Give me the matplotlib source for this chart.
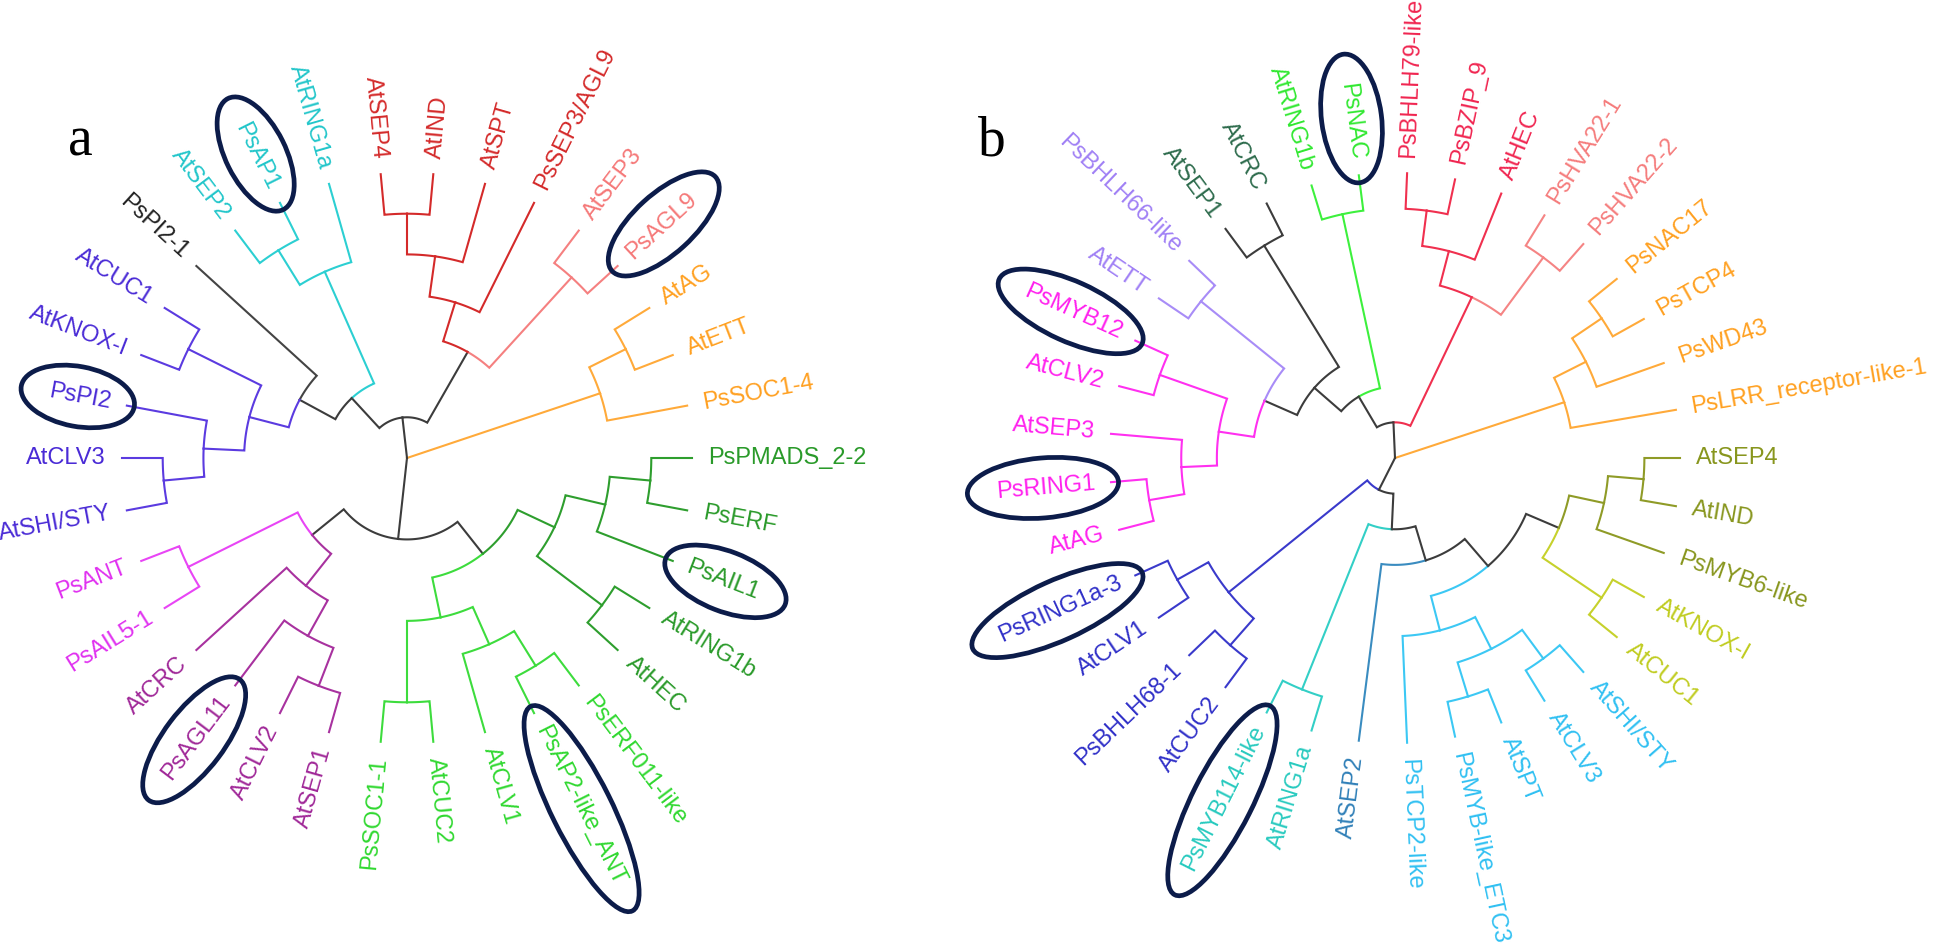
import numpy as np
import matplotlib.pyplot as plt
from matplotlib.patches import Ellipse
from matplotlib.textpath import TextPath
from matplotlib.font_manager import FontProperties

# trees in Newick order, leaves listed counter-clockwise
tree_a = ("((((PsANT,PsAIL5-1),(AtCRC,(PsAGL11,(AtCLV2,AtSEP1)))),"
          "(((PsSOC1-1,AtCUC2),(AtCLV1,(PsAP2-like_ANT,PsERF011-like))),"
          "((AtHEC,AtRING1b),(PsAIL1,(PsERF,PsPMADS_2-2))))),"
          "(PsSOC1-4,(AtETT,AtAG)),"
          "(((PsAGL9,AtSEP3),(PsSEP3/AGL9,(AtSPT,(AtIND,AtSEP4)))),"
          "((AtRING1a,(PsAP1,AtSEP2)),(PsPI2-1,((AtCUC1,AtKNOX-I),(PsPI2,(AtCLV3,AtSHI/STY)))))));")

tree_b = ("((PsLRR_receptor-like-1,(PsWD43,(PsTCP4,PsNAC17))),"
          "(((PsHVA22-2,PsHVA22-1),(AtHEC,(PsBZIP_9,PsBHLH79-like)))red,"
          "((PsNAC,AtRING1b),((AtCRC,AtSEP1),((PsBHLH66-like,AtETT),"
          "((PsMYB12,AtCLV2),(AtSEP3,(PsRING1,AtAG))))))),"
          "(((PsRING1a-3,AtCLV1),(PsBHLH68-1,AtCUC2)),((PsMYB114-like,AtRING1a),"
          "(AtSEP2,((PsTCP2-like,((PsMYB-like_ETC3,AtSPT),(AtCLV3,AtSHI/STY))),"
          "((AtCUC1,AtKNOX-I),(PsMYB6-like,(AtIND,AtSEP4))))))));")

# colour groups, panel a
a_violet = ["AtCUC1", "AtKNOX-I", "PsPI2", "AtCLV3", "AtSHI/STY"]
a_black = ["PsPI2-1"]
a_cyan = ["AtRING1a", "PsAP1", "AtSEP2"]
a_red = ["AtSEP4", "AtIND", "AtSPT", "PsSEP3/AGL9"]
a_pink = ["AtSEP3", "PsAGL9"]
a_orange = ["AtAG", "AtETT", "PsSOC1-4"]
a_dkgreen = ["PsPMADS_2-2", "PsERF", "PsAIL1", "AtRING1b", "AtHEC"]
a_ltgreen = ["PsERF011-like", "PsAP2-like_ANT", "AtCLV1", "AtCUC2", "PsSOC1-1"]
a_magenta = ["PsANT", "PsAIL5-1"]
a_purple = ["AtCRC", "PsAGL11", "AtCLV2", "AtSEP1"]
a_circled = ["PsAP1", "PsAGL9", "PsPI2", "PsAIL1", "PsAGL11", "PsAP2-like_ANT"]

# colour groups, panel b
b_orange = ["PsNAC17", "PsTCP4", "PsWD43", "PsLRR_receptor-like-1"]
b_pink = ["PsHVA22-1", "PsHVA22-2"]
b_red = ["AtHEC", "PsBZIP_9", "PsBHLH79-like"]
b_green = ["PsNAC", "AtRING1b"]
b_slate = ["AtCRC", "AtSEP1"]
b_lavender = ["PsBHLH66-like", "AtETT"]
b_magenta = ["PsMYB12", "AtCLV2", "AtSEP3", "PsRING1", "AtAG"]
b_blue = ["PsRING1a-3", "AtCLV1", "PsBHLH68-1", "AtCUC2"]
b_teal = ["PsMYB114-like", "AtRING1a"]
b_steel = ["AtSEP2"]
b_sky = ["PsTCP2-like", "PsMYB-like_ETC3", "AtSPT", "AtCLV3", "AtSHI/STY"]
b_olive = ["PsMYB6-like", "AtIND", "AtSEP4"]
b_yellow = ["AtKNOX-I", "AtCUC1"]
b_circled = ["PsNAC", "PsMYB12", "PsRING1", "PsRING1a-3", "PsMYB114-like"]

SKEL = "#3c3c3c"

a_groups = [(a_violet, "#5b3be0", "#4a2bd6"), (a_black, "#444444", "#222222"),
            (a_cyan, "#2ccfd2", "#22c6ca"), (a_red, "#d42a2a", "#d42a2a"),
            (a_pink, "#f58080", "#f57878"), (a_orange, "#ffaa3a", "#ffa020"),
            (a_dkgreen, "#2e9e2e", "#2a9a2a"), (a_ltgreen, "#3ddc3d", "#30d830"),
            (a_magenta, "#e845f5", "#e030f0"), (a_purple, "#a8329f", "#a02898")]
b_groups = [(b_orange, "#ffaa3a", "#ffa020"), (b_pink, "#f58484", "#f57c7c"),
            (b_red, "#f0304f", "#f02550"), (b_green, "#3df03d", "#30e830"),
            (b_slate, SKEL, "#2d6b4c"), (b_lavender, "#a88cf7", "#a080f5"),
            (b_magenta, "#ff30f0", "#ff20ee"), (b_blue, "#3a3acb", "#3030c8"),
            (b_teal, "#33cfc6", "#28cabf"), (b_steel, "#3a8cc0", "#3080b8"),
            (b_sky, "#3cc8f4", "#30c0f2"), (b_olive, "#8f9b27", "#88961e"),
            (b_yellow, "#c6d12c", "#c0cc20")]
b_override = {"red": "#f0304f"}

W, H = 1946, 948
FS = 17
FS_PX = FS * 100 / 72
GAP = 16
font = FontProperties(family="Liberation Sans")


def parse(s):
    s = s.strip().rstrip(";")
    pos = 0

    def read_name():
        nonlocal pos
        st = pos
        while pos < len(s) and s[pos] not in ",()":
            pos += 1
        return s[st:pos]

    def node():
        nonlocal pos
        if s[pos] == "(":
            pos += 1
            kids = [node()]
            while s[pos] == ",":
                pos += 1
                kids.append(node())
            pos += 1
            return {"kids": kids, "name": read_name()}
        return {"kids": [], "name": read_name()}

    return node()


def layout(n, start, step, cnt, lc, override):
    if not n["kids"]:
        n["ang"] = start + step * cnt[0]
        cnt[0] += 1
        n["h"] = 0
        n["col"] = lc[n["name"]][0]
        return
    for k in n["kids"]:
        layout(k, start, step, cnt, lc, override)
    n["ang"] = np.mean([k["ang"] for k in n["kids"]])
    n["h"] = 1 + max(k["h"] for k in n["kids"])
    cols = set(k["col"] for k in n["kids"])
    if len(cols) == 1:
        n["col"] = cols.pop()
    elif n["name"] in override:
        n["col"] = override[n["name"]]
    else:
        n["col"] = SKEL


def draw_tree(ax, newick, groups, cx, cy, R, start, circled, override={}):
    lc = {}
    for names, line_c, lab_c in groups:
        for nm in names:
            lc[nm] = (line_c, lab_c)
    root = parse(newick)
    nleaf = newick.count(",") + 1
    step = 360.0 / nleaf
    layout(root, start, step, [0], lc, override)
    Hmax = root["h"]

    def rad(n):
        return (Hmax - n["h"]) / Hmax * R

    def walk(p):
        rp = rad(p)
        for k in p["kids"]:
            rk = rad(k)
            t = np.radians(np.linspace(p["ang"], k["ang"], 40))
            xs = list(cx + rp * np.cos(t)) + [cx + rk * np.cos(t[-1])]
            ys = list(cy + rp * np.sin(t)) + [cy + rk * np.sin(t[-1])]
            ax.plot(xs, ys, color=k["col"], lw=1.5, solid_joinstyle="miter")
            if k["kids"]:
                walk(k)
            else:
                label(k)

    def label(n):
        th = n["ang"] % 360
        tr = np.radians(th)
        if 90 < th < 270:
            rot, ha = th - 180, "right"
        else:
            rot, ha = th, "left"
        x = cx + (R + GAP) * np.cos(tr)
        y = cy + (R + GAP) * np.sin(tr)
        ax.text(x, y, n["name"], rotation=rot, rotation_mode="anchor", ha=ha,
                va="center", fontsize=FS, color=lc[n["name"]][1],
                fontproperties=font)
        if n["name"] in circled:
            L = TextPath((0, 0), n["name"], size=FS_PX, prop=font).get_extents().width
            rc = R + GAP + L / 2 + 4
            ax.add_patch(Ellipse((cx + rc * np.cos(tr), cy + rc * np.sin(tr)),
                                 L + 55, 60, angle=rot, fill=False,
                                 ec="#0c1c4a", lw=3.4, zorder=5))

    walk(root)


fig = plt.figure(figsize=(W / 100, H / 100), dpi=100)
ax = fig.add_axes([0, 0, 1, 1])
ax.set_xlim(0, W)
ax.set_ylim(0, H)
ax.axis("off")

draw_tree(ax, tree_a, a_groups, 407, H - 458, 285, 180 + 2 * 360 / 34, a_circled)
draw_tree(ax, tree_b, b_groups, 1395, H - 458, 285, 360 / 37, b_circled, b_override)

ax.text(80, H - 155, "a", fontsize=40, family="Liberation Serif", ha="center", va="baseline")
ax.text(992, H - 155, "b", fontsize=40, family="Liberation Serif", ha="center", va="baseline")

fig.savefig("out.png", dpi=100)
